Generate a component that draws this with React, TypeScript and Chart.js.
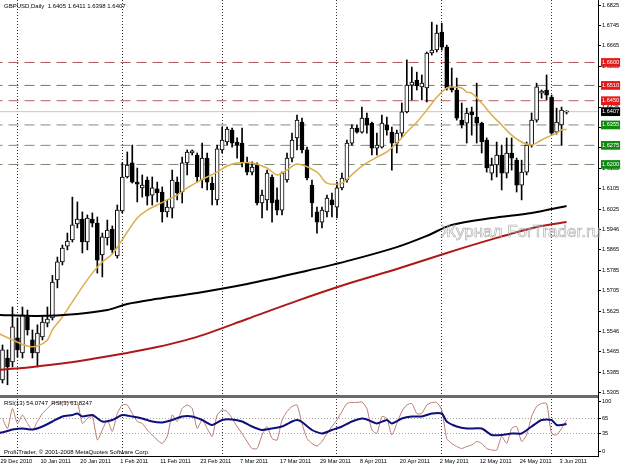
import React, { useEffect, useRef } from 'react';
import { Chart, registerables } from 'chart.js';

Chart.register(...registerables);

// ---------- data ----------
const TITLE = 'GBPUSD,Daily  1.6405 1.6411 1.6398 1.6407';
const RSI_TITLE = 'RSI(13) 54.0747  RSI(3) 61.8247';
const COPYRIGHT = 'Profi-Trader, \u00A9 2001-2008 MetaQuotes Software Corp.';
const WATERMARK = '\u0416\u0443\u0440\u043D\u0430\u043B ForTrader.ru';

const DATE_LABEL_IDX = [0, 8, 16, 24, 32, 40, 48, 56, 64, 72, 80, 88, 96, 104, 112];
const DATE_LABELS = ['29 Dec 2010', '10 Jan 2011', '20 Jan 2011', '1 Feb 2011', '11 Feb 2011', '23 Feb 2011', '7 Mar 2011', '17 Mar 2011', '29 Mar 2011', '8 Apr 2011', '20 Apr 2011', '2 May 2011', '12 May 2011', '24 May 2011', '3 Jun 2011'];
const MONTH_START_IDX = [3, 24, 44, 67, 88, 110];

const PRICE_TICKS = [1.6825, 1.6745, 1.6665, 1.6585, 1.6505, 1.6425, 1.6345, 1.6265, 1.6185, 1.6105, 1.6025, 1.5946, 1.5865, 1.5785, 1.5705, 1.5625, 1.5546, 1.5465, 1.5385, 1.5305];
const RESIST_LEVELS = [1.66, 1.651, 1.645];
const SUPPORT_LEVELS = [1.6355, 1.6275, 1.62];
const LAST_PRICE = 1.6407;
const RSI_TICKS = [100, 65, 35, 0];
const RSI_LEVELS = [65, 35];

const OPEN = [1.5355, 1.5441, 1.5426, 1.5520, 1.5461, 1.5602, 1.5512, 1.5461, 1.5524, 1.5578, 1.5598, 1.5747, 1.5818, 1.5880, 1.5904, 1.5967, 1.5986, 1.5896, 1.5986, 1.5970, 1.5845, 1.5912, 1.5947, 1.5841, 1.6018, 1.6151, 1.6206, 1.6131, 1.6108, 1.6139, 1.6080, 1.6104, 1.6092, 1.6014, 1.6029, 1.6131, 1.6092, 1.6206, 1.6245, 1.6237, 1.6139, 1.6225, 1.6127, 1.6061, 1.6257, 1.6288, 1.6335, 1.6288, 1.6284, 1.6206, 1.6170, 1.6198, 1.6049, 1.6061, 1.6151, 1.6061, 1.6021, 1.6139, 1.6225, 1.6304, 1.6366, 1.6257, 1.6119, 1.6014, 1.5974, 1.6014, 1.6061, 1.6033, 1.6108, 1.6139, 1.6284, 1.6343, 1.6327, 1.6382, 1.6362, 1.6264, 1.6268, 1.6355, 1.6327, 1.6284, 1.6323, 1.6406, 1.6511, 1.6531, 1.6504, 1.6500, 1.6637, 1.6649, 1.6719, 1.6660, 1.6504, 1.6492, 1.6374, 1.6362, 1.6406, 1.6386, 1.6362, 1.6296, 1.6166, 1.6198, 1.6237, 1.6166, 1.6245, 1.6217, 1.6119, 1.6170, 1.6276, 1.6374, 1.6480, 1.6492, 1.6464, 1.6327, 1.6355, 1.6405];
const HIGH = [1.5492, 1.5473, 1.5641, 1.5598, 1.5641, 1.5629, 1.5551, 1.5571, 1.5602, 1.5641, 1.5765, 1.5837, 1.5884, 1.5931, 1.6072, 1.6053, 1.6014, 1.6002, 1.6010, 1.5994, 1.5931, 1.5982, 1.5959, 1.6041, 1.6206, 1.6249, 1.6276, 1.6186, 1.6159, 1.6151, 1.6151, 1.6131, 1.6112, 1.6061, 1.6178, 1.6151, 1.6229, 1.6257, 1.6257, 1.6245, 1.6284, 1.6245, 1.6151, 1.6276, 1.6347, 1.6347, 1.6343, 1.6304, 1.6343, 1.6229, 1.6210, 1.6206, 1.6100, 1.6178, 1.6159, 1.6108, 1.6170, 1.6245, 1.6323, 1.6394, 1.6382, 1.6268, 1.6139, 1.6033, 1.6033, 1.6080, 1.6088, 1.6131, 1.6166, 1.6296, 1.6355, 1.6355, 1.6425, 1.6402, 1.6366, 1.6323, 1.6394, 1.6386, 1.6347, 1.6335, 1.6441, 1.6610, 1.6582, 1.6562, 1.6551, 1.6641, 1.6758, 1.6747, 1.6754, 1.6668, 1.6578, 1.6539, 1.6441, 1.6421, 1.6425, 1.6519, 1.6366, 1.6304, 1.6225, 1.6288, 1.6276, 1.6304, 1.6304, 1.6225, 1.6217, 1.6288, 1.6402, 1.6519, 1.6492, 1.6551, 1.6472, 1.6421, 1.6425, 1.6411];
const LOW = [1.5343, 1.5336, 1.5406, 1.5445, 1.5441, 1.5531, 1.5441, 1.5406, 1.5512, 1.5563, 1.5590, 1.5716, 1.5806, 1.5865, 1.5896, 1.5951, 1.5853, 1.5865, 1.5955, 1.5774, 1.5759, 1.5884, 1.5853, 1.5833, 1.6010, 1.6147, 1.6127, 1.6053, 1.6072, 1.6041, 1.6041, 1.6053, 1.5974, 1.5994, 1.5990, 1.6061, 1.6049, 1.6159, 1.6237, 1.6131, 1.6108, 1.6100, 1.6041, 1.6041, 1.6245, 1.6276, 1.6268, 1.6225, 1.6190, 1.6159, 1.6159, 1.6041, 1.5990, 1.6021, 1.5974, 1.6002, 1.6002, 1.6131, 1.6210, 1.6257, 1.6245, 1.6139, 1.5994, 1.5931, 1.5951, 1.5994, 1.5994, 1.5990, 1.6100, 1.6131, 1.6276, 1.6323, 1.6323, 1.6323, 1.6237, 1.6237, 1.6264, 1.6315, 1.6178, 1.6245, 1.6307, 1.6402, 1.6453, 1.6492, 1.6453, 1.6445, 1.6629, 1.6641, 1.6649, 1.6492, 1.6484, 1.6374, 1.6343, 1.6284, 1.6315, 1.6284, 1.6245, 1.6170, 1.6139, 1.6151, 1.6100, 1.6147, 1.6178, 1.6092, 1.6061, 1.6159, 1.6268, 1.6366, 1.6460, 1.6453, 1.6315, 1.6319, 1.6276, 1.6398];
const CLOSE = [1.5473, 1.5406, 1.5563, 1.5473, 1.5610, 1.5551, 1.5461, 1.5539, 1.5582, 1.5594, 1.5739, 1.5818, 1.5872, 1.5900, 1.5963, 1.5986, 1.5896, 1.5990, 1.5970, 1.5825, 1.5916, 1.5943, 1.5865, 1.6021, 1.6151, 1.6198, 1.6131, 1.6123, 1.6119, 1.6076, 1.6108, 1.6088, 1.6014, 1.6033, 1.6139, 1.6088, 1.6206, 1.6249, 1.6253, 1.6151, 1.6225, 1.6131, 1.6100, 1.6261, 1.6296, 1.6339, 1.6284, 1.6276, 1.6206, 1.6170, 1.6190, 1.6049, 1.6080, 1.6166, 1.6049, 1.6021, 1.6166, 1.6225, 1.6296, 1.6374, 1.6257, 1.6147, 1.6049, 1.5974, 1.6021, 1.6068, 1.6041, 1.6108, 1.6147, 1.6284, 1.6343, 1.6327, 1.6382, 1.6355, 1.6264, 1.6276, 1.6362, 1.6335, 1.6284, 1.6323, 1.6406, 1.6511, 1.6523, 1.6508, 1.6519, 1.6637, 1.6649, 1.6715, 1.6660, 1.6500, 1.6492, 1.6382, 1.6355, 1.6402, 1.6394, 1.6362, 1.6288, 1.6186, 1.6198, 1.6237, 1.6166, 1.6245, 1.6225, 1.6119, 1.6170, 1.6276, 1.6374, 1.6504, 1.6488, 1.6472, 1.6323, 1.6366, 1.6413, 1.6407];

const GOLD_MA_IDX = [-1, 2, 5, 7, 9, 10, 12, 14, 16, 18, 20, 22, 23, 25, 27, 29, 31, 33, 35, 37, 39, 41, 43, 45, 47, 50, 53, 55, 57, 59, 63, 65, 68, 71, 73, 75, 77, 79, 81, 83, 85, 87, 89, 90, 92, 93, 94, 96, 98, 100, 102, 104, 106, 108, 110, 111, 112, 113];
const GOLD_MA = [1.5539, 1.5512, 1.5488, 1.5488, 1.5512, 1.5551, 1.5602, 1.5661, 1.5720, 1.5774, 1.5818, 1.5849, 1.5876, 1.5935, 1.5990, 1.6021, 1.6041, 1.6061, 1.6080, 1.6108, 1.6131, 1.6151, 1.6170, 1.6194, 1.6206, 1.6206, 1.6186, 1.6159, 1.6178, 1.6202, 1.6170, 1.6127, 1.6127, 1.6178, 1.6206, 1.6229, 1.6249, 1.6284, 1.6327, 1.6366, 1.6413, 1.6464, 1.6500, 1.6504, 1.6500, 1.6484, 1.6480, 1.6441, 1.6394, 1.6355, 1.6315, 1.6288, 1.6276, 1.6296, 1.6315, 1.6323, 1.6335, 1.6338];
const BLACK_MA_IDX = [-1, 7, 15, 21, 25, 31, 39, 49, 59, 69, 79, 85, 90, 98, 106, 113];
const BLACK_MA = [1.5610, 1.5606, 1.5614, 1.5629, 1.5653, 1.5673, 1.5696, 1.5731, 1.5774, 1.5821, 1.5876, 1.5920, 1.5963, 1.5990, 1.6010, 1.6037];
const RED_MA_IDX = [-1, 6, 13, 19, 25, 31, 39, 49, 59, 69, 79, 89, 99, 107, 113];
const RED_MA = [1.5394, 1.5406, 1.5422, 1.5441, 1.5461, 1.5484, 1.5524, 1.5594, 1.5665, 1.5731, 1.5790, 1.5853, 1.5912, 1.5955, 1.5974];

const RSI_FAST = [65, 45, 85, 55, 72, 55, 42, 59, 75, 85, 95, 97, 98, 98, 98, 98, 55, 65, 69, 22, 42, 62, 39, 75, 92, 92, 75, 59, 55, 42, 32, 22, 15, 29, 72, 59, 85, 92, 85, 45, 62, 45, 29, 72, 82, 79, 65, 49, 35, 19, 5, 5, 32, 49, 25, 22, 62, 79, 89, 92, 55, 25, 15, 10, 19, 35, 49, 62, 79, 95, 97, 97, 98, 85, 42, 35, 69, 65, 32, 55, 79, 92, 95, 75, 75, 92, 97, 97, 82, 25, 15, 9, 5, 9, 12, 19, 15, 5, 2, 2, 29, 15, 45, 49, 19, 32, 69, 89, 95, 95, 35, 32, 45, 62];
const RSI_SLOW_IDX = [-1, 1, 2, 4, 6, 8, 10, 12, 14, 15, 16, 18, 20, 22, 24, 26, 28, 30, 32, 34, 36, 38, 40, 42, 44, 46, 48, 50, 52, 54, 56, 58, 59, 60, 62, 64, 66, 68, 70, 72, 73, 75, 77, 78, 80, 82, 84, 86, 88, 89, 91, 93, 96, 98, 100, 102, 104, 106, 108, 110, 111, 112, 113];
const RSI_SLOW = [35, 40, 43, 45, 43, 49, 59, 69, 72, 75, 69, 72, 59, 62, 72, 69, 65, 59, 57, 62, 69, 69, 62, 52, 62, 63, 59, 49, 42, 45, 49, 59, 62, 58, 42, 35, 42, 49, 59, 65, 63, 55, 62, 55, 65, 69, 69, 75, 75, 59, 49, 45, 45, 32, 32, 35, 35, 49, 62, 62, 52, 52, 54];

// ---------- helpers ----------
const FONT = '"Liberation Sans", Arial, sans-serif';
const Y_MIN = 1.5292;
const Y_MAX = 1.6845;
const RSI_MIN = -10;
const RSI_MAX = 110;

const fmtLevel = (v: number) => v.toFixed(4);

function levelDataset(level: number, color: string, dash: number[], width = 1) {
  return {
    type: 'line' as const,
    data: [{ x: -2, y: level }, { x: 121, y: level }],
    borderColor: color,
    borderWidth: width,
    borderDash: dash,
    pointRadius: 0,
    yAxisID: 'y',
    xAxisID: 'x',
    order: 10,
  };
}

const noPad = (s: any) => {
  s.paddingLeft = 0;
  s.paddingRight = 0;
  s.paddingTop = 0;
  s.paddingBottom = 0;
};

export default function App() {
  const ref = useRef<HTMLCanvasElement | null>(null);

  useEffect(() => {
    document.body.style.margin = '0';
    const canvas = ref.current;
    if (!canvas) return;

    const textPlugin = {
      id: 'mtTexts',
      afterDraw(chart: any) {
        const ctx = chart.ctx;
        const area = chart.chartArea;
        const yr = chart.scales.yr;
        ctx.save();
        ctx.fillStyle = '#000';
        ctx.textBaseline = 'middle';
        ctx.textAlign = 'left';
        ctx.font = `6px ${FONT}`;
        ctx.fillText(TITLE, area.left + 4, area.top + 6);
        ctx.fillText(RSI_TITLE, area.left + 4, yr.top + 7);
        ctx.fillText(COPYRIGHT, area.left + 4, yr.bottom - 4);
        ctx.font = `17px ${FONT}`;
        ctx.textAlign = 'right';
        ctx.strokeStyle = '#a8a8a8';
        ctx.lineWidth = 0.6;
        ctx.strokeText(WATERMARK, area.right + 3, chart.scales.y.getPixelForValue(1.5935));
        ctx.restore();
      },
    };

    const xTicks = Array.from(new Set([...DATE_LABEL_IDX, ...MONTH_START_IDX])).sort((a, b) => a - b);

    const kindOf = (v: number) => {
      if (RESIST_LEVELS.includes(v)) return 'r';
      if (SUPPORT_LEVELS.includes(v)) return 's';
      if (v === LAST_PRICE) return 'l';
      if (v === Y_MIN) return 'sep';
      return 'n';
    };

    const chart = new Chart(canvas, {
      type: 'bar',
      data: {
        datasets: [
          ...RESIST_LEVELS.map((l) => levelDataset(l, '#b45a5a', [10, 6])),
          ...SUPPORT_LEVELS.map((l) => levelDataset(l, '#7c8c74', [10, 6])),
          levelDataset(LAST_PRICE, '#c8c8c8', []),
          {
            type: 'bar' as const,
            data: LOW.map((lo, i) => ({ x: i, y: [lo, HIGH[i]] })),
            backgroundColor: '#000',
            borderWidth: 0,
            barThickness: 1,
            grouped: false,
            yAxisID: 'y',
            xAxisID: 'x',
            order: 4,
          },
          {
            type: 'bar' as const,
            data: OPEN.map((o, i) => ({ x: i, y: [o, CLOSE[i]] })),
            backgroundColor: (c: any) => (CLOSE[c.dataIndex] >= OPEN[c.dataIndex] ? '#fff' : '#000'),
            borderColor: '#000',
            borderWidth: 1,
            borderSkipped: false,
            minBarLength: 1,
            barThickness: 4,
            grouped: false,
            yAxisID: 'y',
            xAxisID: 'x',
            order: 3,
          },
          {
            type: 'line' as const,
            data: RED_MA_IDX.map((x, k) => ({ x, y: RED_MA[k] })),
            borderColor: '#b01818',
            borderWidth: 2,
            pointRadius: 0,
            tension: 0.3,
            yAxisID: 'y',
            xAxisID: 'x',
            order: 1,
          },
          {
            type: 'line' as const,
            data: BLACK_MA_IDX.map((x, k) => ({ x, y: BLACK_MA[k] })),
            borderColor: '#000',
            borderWidth: 2,
            pointRadius: 0,
            tension: 0.3,
            yAxisID: 'y',
            xAxisID: 'x',
            order: 1,
          },
          {
            type: 'line' as const,
            data: GOLD_MA_IDX.map((x, k) => ({ x, y: GOLD_MA[k] })),
            borderColor: '#dcae4c',
            borderWidth: 1.5,
            pointRadius: 0,
            tension: 0.3,
            yAxisID: 'y',
            xAxisID: 'x',
            order: 1,
          },
          {
            type: 'line' as const,
            data: RSI_FAST.map((v, i) => ({ x: i, y: v })),
            borderColor: '#b87c70',
            borderWidth: 1,
            pointRadius: 0,
            tension: 0.2,
            yAxisID: 'yr',
            xAxisID: 'x',
            order: 1,
          },
          {
            type: 'line' as const,
            data: RSI_SLOW_IDX.map((x, k) => ({ x, y: RSI_SLOW[k] })),
            borderColor: '#10107a',
            borderWidth: 2,
            pointRadius: 0,
            tension: 0.2,
            yAxisID: 'yr',
            xAxisID: 'x',
            order: 0,
          },
        ] as any,
      },
      options: {
        responsive: false,
        maintainAspectRatio: false,
        animation: false,
        events: [],
        layout: { padding: 0 },
        plugins: { legend: { display: false }, tooltip: { enabled: false }, title: { display: false } },
        scales: {
          x: {
            type: 'linear',
            position: 'bottom',
            offset: false,
            min: -0.5,
            max: 119.3,
            afterBuildTicks: (s: any) => {
              s.ticks = xTicks.map((v) => ({ value: v }));
            },
            afterFit: (s: any) => {
              s.height = 11;
              noPad(s);
            },
            ticks: {
              autoSkip: false,
              maxRotation: 0,
              minRotation: 0,
              align: 'start',
              labelOffset: -2,
              padding: 2,
              color: '#000',
              font: { size: 5.6, family: FONT },
              callback: (v: any) => {
                const k = DATE_LABEL_IDX.indexOf(Number(v));
                return k >= 0 ? DATE_LABELS[k] : '';
              },
            },
            grid: {
              offset: false,
              drawOnChartArea: true,
              drawTicks: false,
              lineWidth: 1,
              color: (c: any) => (c.tick && MONTH_START_IDX.includes(c.tick.value) ? '#303030' : 'rgba(0,0,0,0)'),
            },
            border: { display: true, color: '#000', width: 1, dash: [1, 2] },
          },
          y: {
            type: 'linear',
            position: 'right',
            stack: 'right',
            stackWeight: 396,
            min: Y_MIN,
            max: Y_MAX,
            afterBuildTicks: (s: any) => {
              s.ticks = [
                { value: Y_MIN },
                ...PRICE_TICKS.map((v) => ({ value: v })),
                ...RESIST_LEVELS.map((v) => ({ value: v })),
                { value: LAST_PRICE },
                ...SUPPORT_LEVELS.map((v) => ({ value: v })),
              ];
            },
            afterFit: (s: any) => {
              s.width = 25;
              noPad(s);
            },
            ticks: {
              autoSkip: false,
              padding: 1,
              font: { size: 5.6, family: FONT },
              color: (c: any) => (kindOf(c.tick.value) === 'n' ? '#000' : '#fff'),
              showLabelBackdrop: (c: any) => ['r', 's', 'l'].includes(kindOf(c.tick.value)),
              backdropColor: (c: any) => {
                const k = kindOf(c.tick.value);
                return k === 'r' ? '#e21a1a' : k === 's' ? '#128a12' : '#000';
              },
              backdropPadding: { top: 1, bottom: 1, left: 1, right: 1 },
              callback: (v: any) => (Number(v) === Y_MIN ? '' : fmtLevel(Number(v))),
            },
            grid: {
              drawOnChartArea: true,
              drawTicks: true,
              tickLength: 3,
              color: (c: any) => (c.tick && c.tick.value === Y_MIN ? '#6a6a6a' : 'rgba(0,0,0,0)'),
              lineWidth: (c: any) => (c.tick && c.tick.value === Y_MIN ? 3 : 1),
              tickColor: (c: any) => (c.tick && kindOf(c.tick.value) === 'n' ? '#000' : 'rgba(0,0,0,0)'),
            },
            border: { display: true, color: '#000', width: 1 },
          },
          yr: {
            type: 'linear',
            position: 'right',
            stack: 'right',
            stackWeight: 60,
            min: RSI_MIN,
            max: RSI_MAX,
            afterBuildTicks: (s: any) => {
              s.ticks = RSI_TICKS.map((v) => ({ value: v }));
            },
            afterFit: (s: any) => {
              s.width = 25;
              noPad(s);
            },
            ticks: {
              autoSkip: false,
              padding: 1,
              color: '#000',
              font: { size: 5.6, family: FONT },
              callback: (v: any) => String(v),
            },
            grid: {
              drawOnChartArea: true,
              drawTicks: true,
              tickLength: 3,
              color: (c: any) => (c.tick && RSI_LEVELS.includes(c.tick.value) ? '#a8a8a8' : 'rgba(0,0,0,0)'),
              tickColor: '#000',
            },
            border: { display: true, color: '#000', width: 1, dash: [1, 2] },
          },
        } as any,
      },
      plugins: [textPlugin],
    });

    return () => chart.destroy();
  }, []);

  return (
    <div style={{ width: 623, height: 467, background: '#fff' }}>
      <canvas ref={ref} width={623} height={467} style={{ display: 'block' }} />
    </div>
  );
}
